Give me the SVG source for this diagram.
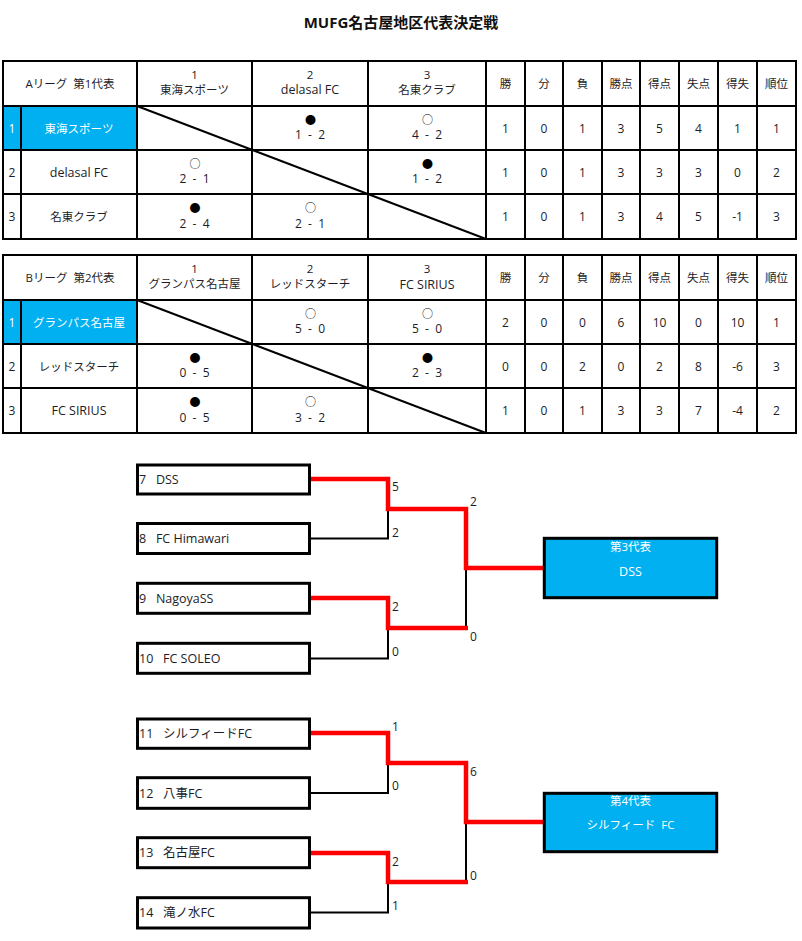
<svg xmlns="http://www.w3.org/2000/svg" width="802" height="941" viewBox="0 0 802 941">
<style>
text{font-family:"Open Sans","Noto Sans CJK JP",sans-serif;fill:#1c1c28;}
.t{font-size:15px;font-weight:bold;text-anchor:middle;fill:#111}
.j{font-size:11.5px;text-anchor:middle}
.n{font-size:12px;text-anchor:middle}
.h{font-size:11.5px;text-anchor:middle}
.l{font-size:12.5px;text-anchor:middle}
.sym{font-family:"Noto Sans CJK JP",sans-serif;font-size:11px;text-anchor:middle;fill:#000}
.sc{font-size:12px;text-anchor:middle}
.w{fill:#fff}
.grid{stroke:#000;stroke-width:2;fill:none}
.hl{fill:#00b0f0}
.box{fill:#fff;stroke:#000;stroke-width:3}
.win{fill:#00b0f0;stroke:#000;stroke-width:3}
.bt{font-size:12.5px}
.red{stroke:#f00;stroke-width:4.5;fill:none}
.blk{stroke:#000;stroke-width:2;fill:none}
.sl{font-size:12px}
</style>
<text class="t" x="401" y="28">MUFG名古屋地区代表決定戦</text>

<g id="tableA">
<rect class="hl" x="3" y="106" width="134" height="44"/>
<rect class="grid" x="3" y="61" width="793" height="178"/>
<path class="grid" d="M3 106H796M3 150H796M3 194H796M21 106V239M137 61V239M252 61V239M368 61V239M486 61V239M525 61V239M563 61V239M602 61V239M640 61V239M679 61V239M718 61V239M757 61V239"/>
<path class="grid" d="M137 106L486 239"/>
<text class="j" x="70" y="87.5" xml:space="preserve">Aリーグ  第1代表</text>
<text class="h" x="194.5" y="78.5">1</text><text class="j" x="194.5" y="93.5">東海スポーツ</text>
<text class="h" x="310" y="78.5">2</text><text class="l" x="310" y="94">delasal FC</text>
<text class="h" x="427" y="78.5">3</text><text class="j" x="427" y="93.5">名東クラブ</text>
<text class="j" x="505.5" y="87.5">勝</text><text class="j" x="544" y="87.5">分</text><text class="j" x="582.5" y="87.5">負</text><text class="j" x="621" y="87.5">勝点</text><text class="j" x="659.5" y="87.5">得点</text><text class="j" x="698.5" y="87.5">失点</text><text class="j" x="737.5" y="87.5">得失</text><text class="j" x="776.5" y="87.5">順位</text>
<!-- row 1 -->
<text class="n w" x="12" y="132.5">1</text><text class="j w" x="79" y="132.5">東海スポーツ</text>
<text class="sym" x="310.5" y="123.5">●</text><text class="sc" x="310" y="139" xml:space="preserve">1  -  2</text>
<text class="sym" x="427.5" y="123.5">○</text><text class="sc" x="427" y="139" xml:space="preserve">4  -  2</text>
<text class="n" x="505.5" y="132.5">1</text><text class="n" x="544" y="132.5">0</text><text class="n" x="582.5" y="132.5">1</text><text class="n" x="621" y="132.5">3</text><text class="n" x="659.5" y="132.5">5</text><text class="n" x="698.5" y="132.5">4</text><text class="n" x="737.5" y="132.5">1</text><text class="n" x="776.5" y="132.5">1</text>
<!-- row 2 -->
<text class="n" x="12" y="176.5">2</text><text class="l" x="79" y="176.5">delasal FC</text>
<text class="sym" x="195" y="167.5">○</text><text class="sc" x="194.5" y="183" xml:space="preserve">2  -  1</text>
<text class="sym" x="427.5" y="167.5">●</text><text class="sc" x="427" y="183" xml:space="preserve">1  -  2</text>
<text class="n" x="505.5" y="176.5">1</text><text class="n" x="544" y="176.5">0</text><text class="n" x="582.5" y="176.5">1</text><text class="n" x="621" y="176.5">3</text><text class="n" x="659.5" y="176.5">3</text><text class="n" x="698.5" y="176.5">3</text><text class="n" x="737.5" y="176.5">0</text><text class="n" x="776.5" y="176.5">2</text>
<!-- row 3 -->
<text class="n" x="12" y="221">3</text><text class="j" x="79" y="221">名東クラブ</text>
<text class="sym" x="195" y="212">●</text><text class="sc" x="194.5" y="227.5" xml:space="preserve">2  -  4</text>
<text class="sym" x="310.5" y="212">○</text><text class="sc" x="310" y="227.5" xml:space="preserve">2  -  1</text>
<text class="n" x="505.5" y="221">1</text><text class="n" x="544" y="221">0</text><text class="n" x="582.5" y="221">1</text><text class="n" x="621" y="221">3</text><text class="n" x="659.5" y="221">4</text><text class="n" x="698.5" y="221">5</text><text class="n" x="737.5" y="221">-1</text><text class="n" x="776.5" y="221">3</text>
</g>

<g id="tableB">
<rect class="hl" x="3" y="300" width="134" height="44"/>
<rect class="grid" x="3" y="255" width="793" height="178"/>
<path class="grid" d="M3 300H796M3 344H796M3 388H796M21 300V433M137 255V433M252 255V433M368 255V433M486 255V433M525 255V433M563 255V433M602 255V433M640 255V433M679 255V433M718 255V433M757 255V433"/>
<path class="grid" d="M137 300L486 433"/>
<text class="j" x="70" y="281.5" xml:space="preserve">Bリーグ  第2代表</text>
<text class="h" x="194.5" y="273">1</text><text class="j" x="194.5" y="288">グランパス名古屋</text>
<text class="h" x="310" y="273">2</text><text class="j" x="310" y="288">レッドスターチ</text>
<text class="h" x="427" y="273">3</text><text class="l" x="427" y="288.5">FC SIRIUS</text>
<text class="j" x="505.5" y="281.5">勝</text><text class="j" x="544" y="281.5">分</text><text class="j" x="582.5" y="281.5">負</text><text class="j" x="621" y="281.5">勝点</text><text class="j" x="659.5" y="281.5">得点</text><text class="j" x="698.5" y="281.5">失点</text><text class="j" x="737.5" y="281.5">得失</text><text class="j" x="776.5" y="281.5">順位</text>
<!-- row 1 -->
<text class="n w" x="12" y="326.5">1</text><text class="j w" x="79" y="326.5">グランパス名古屋</text>
<text class="sym" x="310.5" y="317.5">○</text><text class="sc" x="310" y="333" xml:space="preserve">5  -  0</text>
<text class="sym" x="427.5" y="317.5">○</text><text class="sc" x="427" y="333" xml:space="preserve">5  -  0</text>
<text class="n" x="505.5" y="326.5">2</text><text class="n" x="544" y="326.5">0</text><text class="n" x="582.5" y="326.5">0</text><text class="n" x="621" y="326.5">6</text><text class="n" x="659.5" y="326.5">10</text><text class="n" x="698.5" y="326.5">0</text><text class="n" x="737.5" y="326.5">10</text><text class="n" x="776.5" y="326.5">1</text>
<!-- row 2 -->
<text class="n" x="12" y="370.5">2</text><text class="j" x="79" y="370.5">レッドスターチ</text>
<text class="sym" x="195" y="361.5">●</text><text class="sc" x="194.5" y="377" xml:space="preserve">0  -  5</text>
<text class="sym" x="427.5" y="361.5">●</text><text class="sc" x="427" y="377" xml:space="preserve">2  -  3</text>
<text class="n" x="505.5" y="370.5">0</text><text class="n" x="544" y="370.5">0</text><text class="n" x="582.5" y="370.5">2</text><text class="n" x="621" y="370.5">0</text><text class="n" x="659.5" y="370.5">2</text><text class="n" x="698.5" y="370.5">8</text><text class="n" x="737.5" y="370.5">-6</text><text class="n" x="776.5" y="370.5">3</text>
<!-- row 3 -->
<text class="n" x="12" y="415">3</text><text class="l" x="79" y="415">FC SIRIUS</text>
<text class="sym" x="195" y="406">●</text><text class="sc" x="194.5" y="421.5" xml:space="preserve">0  -  5</text>
<text class="sym" x="310.5" y="406">○</text><text class="sc" x="310" y="421.5" xml:space="preserve">3  -  2</text>
<text class="n" x="505.5" y="415">1</text><text class="n" x="544" y="415">0</text><text class="n" x="582.5" y="415">1</text><text class="n" x="621" y="415">3</text><text class="n" x="659.5" y="415">3</text><text class="n" x="698.5" y="415">7</text><text class="n" x="737.5" y="415">-4</text><text class="n" x="776.5" y="415">2</text>
</g>

<g id="connectors">
<path class="blk" d="M311 538.5H388V509M311 658.5H388V628M466 568V628"/>
<path class="blk" d="M311 793H388V763M311 912.5H388V882M466 822V882"/>
<path class="red" d="M311 479H388V509H466V568H543"/>
<path class="red" d="M311 598H388V628H468"/>
<path class="red" d="M311 733H388V763H466V822H543"/>
<path class="red" d="M311 853H388V882H468"/>
<text class="sl" x="392" y="491">5</text>
<text class="sl" x="392" y="537">2</text>
<text class="sl" x="470" y="506">2</text>
<text class="sl" x="392" y="611">2</text>
<text class="sl" x="392" y="656">0</text>
<text class="sl" x="470" y="641">0</text>
<text class="sl" x="392" y="731">1</text>
<text class="sl" x="392" y="790">0</text>
<text class="sl" x="470" y="776">6</text>
<text class="sl" x="392" y="866">2</text>
<text class="sl" x="392" y="910">1</text>
<text class="sl" x="470" y="880">0</text>
</g>

<g id="team7"><rect class="box" x="137.5" y="465" width="172" height="29"/><text class="bt" x="139" y="483.5" xml:space="preserve">7   DSS</text></g>
<g id="team8"><rect class="box" x="137.5" y="523.5" width="172" height="30"/><text class="bt" x="139" y="543" xml:space="preserve">8   FC Himawari</text></g>
<g id="team9"><rect class="box" x="137.5" y="583.3" width="172" height="30"/><text class="bt" x="139" y="602.8" xml:space="preserve">9   NagoyaSS</text></g>
<g id="team10"><rect class="box" x="137.5" y="643.3" width="172" height="30"/><text class="bt" x="139" y="662.8" xml:space="preserve">10   FC SOLEO</text></g>
<g id="rep3"><rect class="win" x="544.3" y="538.3" width="172.4" height="59.4"/><text class="j w" x="630.5" y="551">第3代表</text><text class="l w" x="630.5" y="576">DSS</text></g>

<g id="team11"><rect class="box" x="137.5" y="719" width="172" height="29.3"/><text class="bt" x="139" y="737.5" xml:space="preserve">11   シルフィードFC</text></g>
<g id="team12"><rect class="box" x="137.5" y="777.7" width="172" height="30.6"/><text class="bt" x="139" y="797.5" xml:space="preserve">12   八事FC</text></g>
<g id="team13"><rect class="box" x="137.5" y="837.7" width="172" height="30"/><text class="bt" x="139" y="857" xml:space="preserve">13   名古屋FC</text></g>
<g id="team14"><rect class="box" x="137.5" y="897.7" width="172" height="30.3"/><text class="bt" x="139" y="917" xml:space="preserve">14   滝ノ水FC</text></g>
<g id="rep4"><rect class="win" x="544.3" y="793.3" width="172.4" height="58.4"/><text class="j w" x="630.5" y="805">第4代表</text><text class="j w" x="630.5" y="829" xml:space="preserve">シルフィード  FC</text></g>
</svg>
